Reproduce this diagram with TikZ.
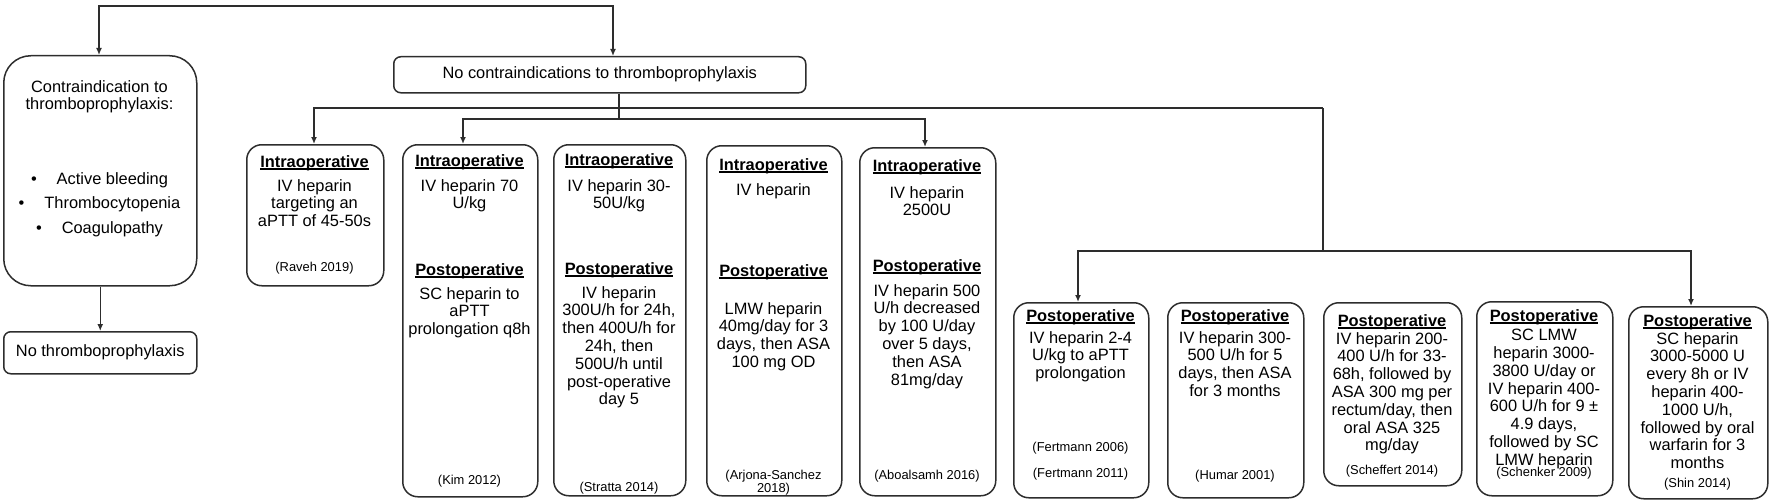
\documentclass[tikz,border=0pt]{standalone}
\usepackage{fontspec}
\setmainfont{Liberation Sans}
\usetikzlibrary{arrows.meta}
\definecolor{lnc}{RGB}{45,45,45}
\newcommand{\myul}[1]{\setbox0=\hbox{#1}\rlap{\rule[-2.6pt]{\wd0}{1.4pt}}\box0}
\tikzset{
 bx/.style={draw=lnc, line width=1.5pt, rounded corners=15pt, inner sep=0pt, anchor=north west},
 txt/.style={font=\fontsize{16.4}{17.8}\selectfont, align=center, inner sep=0pt, anchor=north},
 hd/.style={font=\bfseries\fontsize{16.4}{17.8}\selectfont, inner sep=0pt, anchor=north},
 ct/.style={font=\fontsize{12.9}{12.5}\selectfont, align=center, inner sep=0pt, anchor=north},
 conn/.style={draw=lnc, line width=1.4pt},
 arr/.style={conn, -{Latex[length=7pt,width=6pt]}},
 arrtwo/.style={conn, {Latex[length=7pt,width=6pt]}-{Latex[length=7pt,width=6pt]}},
}
\begin{document}
\begin{tikzpicture}[x=1pt,y=-1pt]
\useasboundingbox (0,0) rectangle (1772,503);
% boxes
\node[bx, rounded corners=27pt, minimum width=193pt, minimum height=230pt] (contra) at (3,55) {};
\node[bx, rounded corners=7pt, minimum width=193pt, minimum height=42pt, font=\fontsize{16.4}{17.8}\selectfont] (nothr) at (3,331) {No thromboprophylaxis};
\node[bx, rounded corners=7pt, minimum width=412pt, minimum height=36pt, font=\fontsize{16.4}{17.8}\selectfont] (nc) at (393,56) {No contraindications to thromboprophylaxis};
\node[bx, minimum width=137pt, minimum height=141pt] (raveh) at (246,144) {};
\node[bx, minimum width=135pt, minimum height=352pt] (kim) at (402,144) {};
\node[bx, minimum width=132pt, minimum height=351pt] (stratta) at (553,144) {};
\node[bx, minimum width=135pt, minimum height=350pt] (arjona) at (706,145) {};
\node[bx, minimum width=136pt, minimum height=348pt] (abo) at (859,147) {};
\node[bx, minimum width=135pt, minimum height=195pt] (fert) at (1013,302) {};
\node[bx, minimum width=136pt, minimum height=195pt] (humar) at (1167,302) {};
\node[bx, minimum width=138pt, minimum height=183pt] (scheff) at (1323,302) {};
\node[bx, minimum width=136pt, minimum height=194pt] (schenk) at (1476,301) {};
\node[bx, minimum width=139pt, minimum height=192pt] (shin) at (1628,306) {};
% contraindication text
\node[txt] (ctitle) at (99.5,80) {Contraindication to\\thromboprophylaxis:};
\node[txt, font=\fontsize{16.4}{24.5}\selectfont] (cbul) at (99.5,172) {•\hspace{20pt}Active bleeding\\•\hspace{20pt}Thrombocytopenia\\•\hspace{20pt}Coagulopathy};
% Raveh
\node[hd] (ravehH) at (314.5,155) {\myul{Intraoperative}};
\node[txt] (ravehB) at (314.5,179) {IV heparin\\targeting an\\aPTT of 45-50s};
\node[ct] (ravehC) at (314.5,262) {(Raveh 2019)};
% Kim
\node[hd] (kimH1) at (469.5,154) {\myul{Intraoperative}};
\node[txt] (kimB1) at (469.5,179) {IV heparin 70\\U/kg};
\node[hd] (kimH2) at (469.5,263) {\myul{Postoperative}};
\node[txt] (kimB2) at (469.5,287) {SC heparin to\\aPTT\\prolongation q8h};
\node[ct] (kimC) at (469.5,475) {(Kim 2012)};
% Stratta
\node[hd] (strH1) at (619,153) {\myul{Intraoperative}};
\node[txt] (strB1) at (619,179) {IV heparin 30-\\50U/kg};
\node[hd] (strH2) at (619,262) {\myul{Postoperative}};
\node[txt] (strB2) at (619,286) {IV heparin\\300U/h for 24h,\\then 400U/h for\\24h, then\\500U/h until\\post-operative\\day 5};
\node[ct] (strC) at (619,482) {(Stratta 2014)};
% Arjona
\node[hd] (arjH1) at (773.5,158) {\myul{Intraoperative}};
\node[txt] (arjB1) at (773.5,183) {IV heparin};
\node[hd] (arjH2) at (773.5,264) {\myul{Postoperative}};
\node[txt] (arjB2) at (773.5,302) {LMW heparin\\40mg/day for 3\\days, then ASA\\100 mg OD};
\node[ct] (arjC) at (773.5,470) {(Arjona-Sanchez\\2018)};
% Aboalsamh
\node[hd] (aboH1) at (927,159) {\myul{Intraoperative}};
\node[txt] (aboB1) at (927,186) {IV heparin\\2500U};
\node[hd] (aboH2) at (927,259) {\myul{Postoperative}};
\node[txt] (aboB2) at (927,284) {IV heparin 500\\U/h decreased\\by 100 U/day\\over 5 days,\\then ASA\\81mg/day};
\node[ct] (aboC) at (927,470) {(Aboalsamh 2016)};
% Fertmann
\node[hd] (ferH) at (1080.5,309) {\myul{Postoperative}};
\node[txt] (ferB) at (1080.5,331) {IV heparin 2-4\\U/kg to aPTT\\prolongation};
\node[ct] (ferC1) at (1080.5,442) {(Fertmann 2006)};
\node[ct] (ferC2) at (1080.5,468) {(Fertmann 2011)};
% Humar
\node[hd] (humH) at (1235,309) {\myul{Postoperative}};
\node[txt] (humB) at (1235,331) {IV heparin 300-\\500 U/h for 5\\days, then ASA\\for 3 months};
\node[ct] (humC) at (1235,470) {(Humar 2001)};
% Scheffert
\node[hd] (schH) at (1392,314) {\myul{Postoperative}};
\node[txt] (schB) at (1392,332) {IV heparin 200-\\400 U/h for 33-\\68h, followed by\\ASA 300 mg per\\rectum/day, then\\oral ASA 325\\mg/day};
\node[ct] (schC) at (1392,465) {(Scheffert 2014)};
% Schenker
\node[hd] (snkH) at (1544,309) {\myul{Postoperative}};
\node[txt] (snkB) at (1544,329) {SC LMW\\heparin 3000-\\3800 U/day or\\IV heparin 400-\\600 U/h for 9 ±\\4.9 days,\\followed by SC\\LMW heparin};
\node[ct] (snkC) at (1544,467) {(Schenker 2009)};
% Shin
\node[hd] (shiH) at (1697.5,314) {\myul{Postoperative}};
\node[txt] (shiB) at (1697.5,332) {SC heparin\\3000-5000 U\\every 8h or IV\\heparin 400-\\1000 U/h,\\followed by oral\\warfarin for 3\\months};
\node[ct] (shiC) at (1697.5,478) {(Shin 2014)};
% connectors
\coordinate (tl) at (99,6);
\coordinate (tr) at (613,6);
\draw[arrtwo] (tl |- contra.north) -- (tl) -- (tr) -- (tr |- nc.north);
\draw[arr] (contra.south) -- (nothr.north);
\coordinate (stem) at (619,119);
\draw[conn] (stem |- nc.south) -- (stem);
\coordinate (r1) at (314,108);
\coordinate (v1) at (1323,108);
\draw[arr] (v1) -- (r1) -- (r1 |- raveh.north);
\coordinate (k2) at (463,119);
\coordinate (a2) at (925,119);
\draw[arrtwo] (k2 |- kim.north) -- (k2) -- (a2) -- (a2 |- abo.north);
\coordinate (v2) at (1323,251);
\draw[conn] (v1) -- (v2);
\coordinate (f3) at (1078,251);
\coordinate (s3) at (1691,251);
\draw[arrtwo] (f3 |- fert.north) -- (f3) -- (s3) -- (s3 |- shin.north);
\end{tikzpicture}
\end{document}
